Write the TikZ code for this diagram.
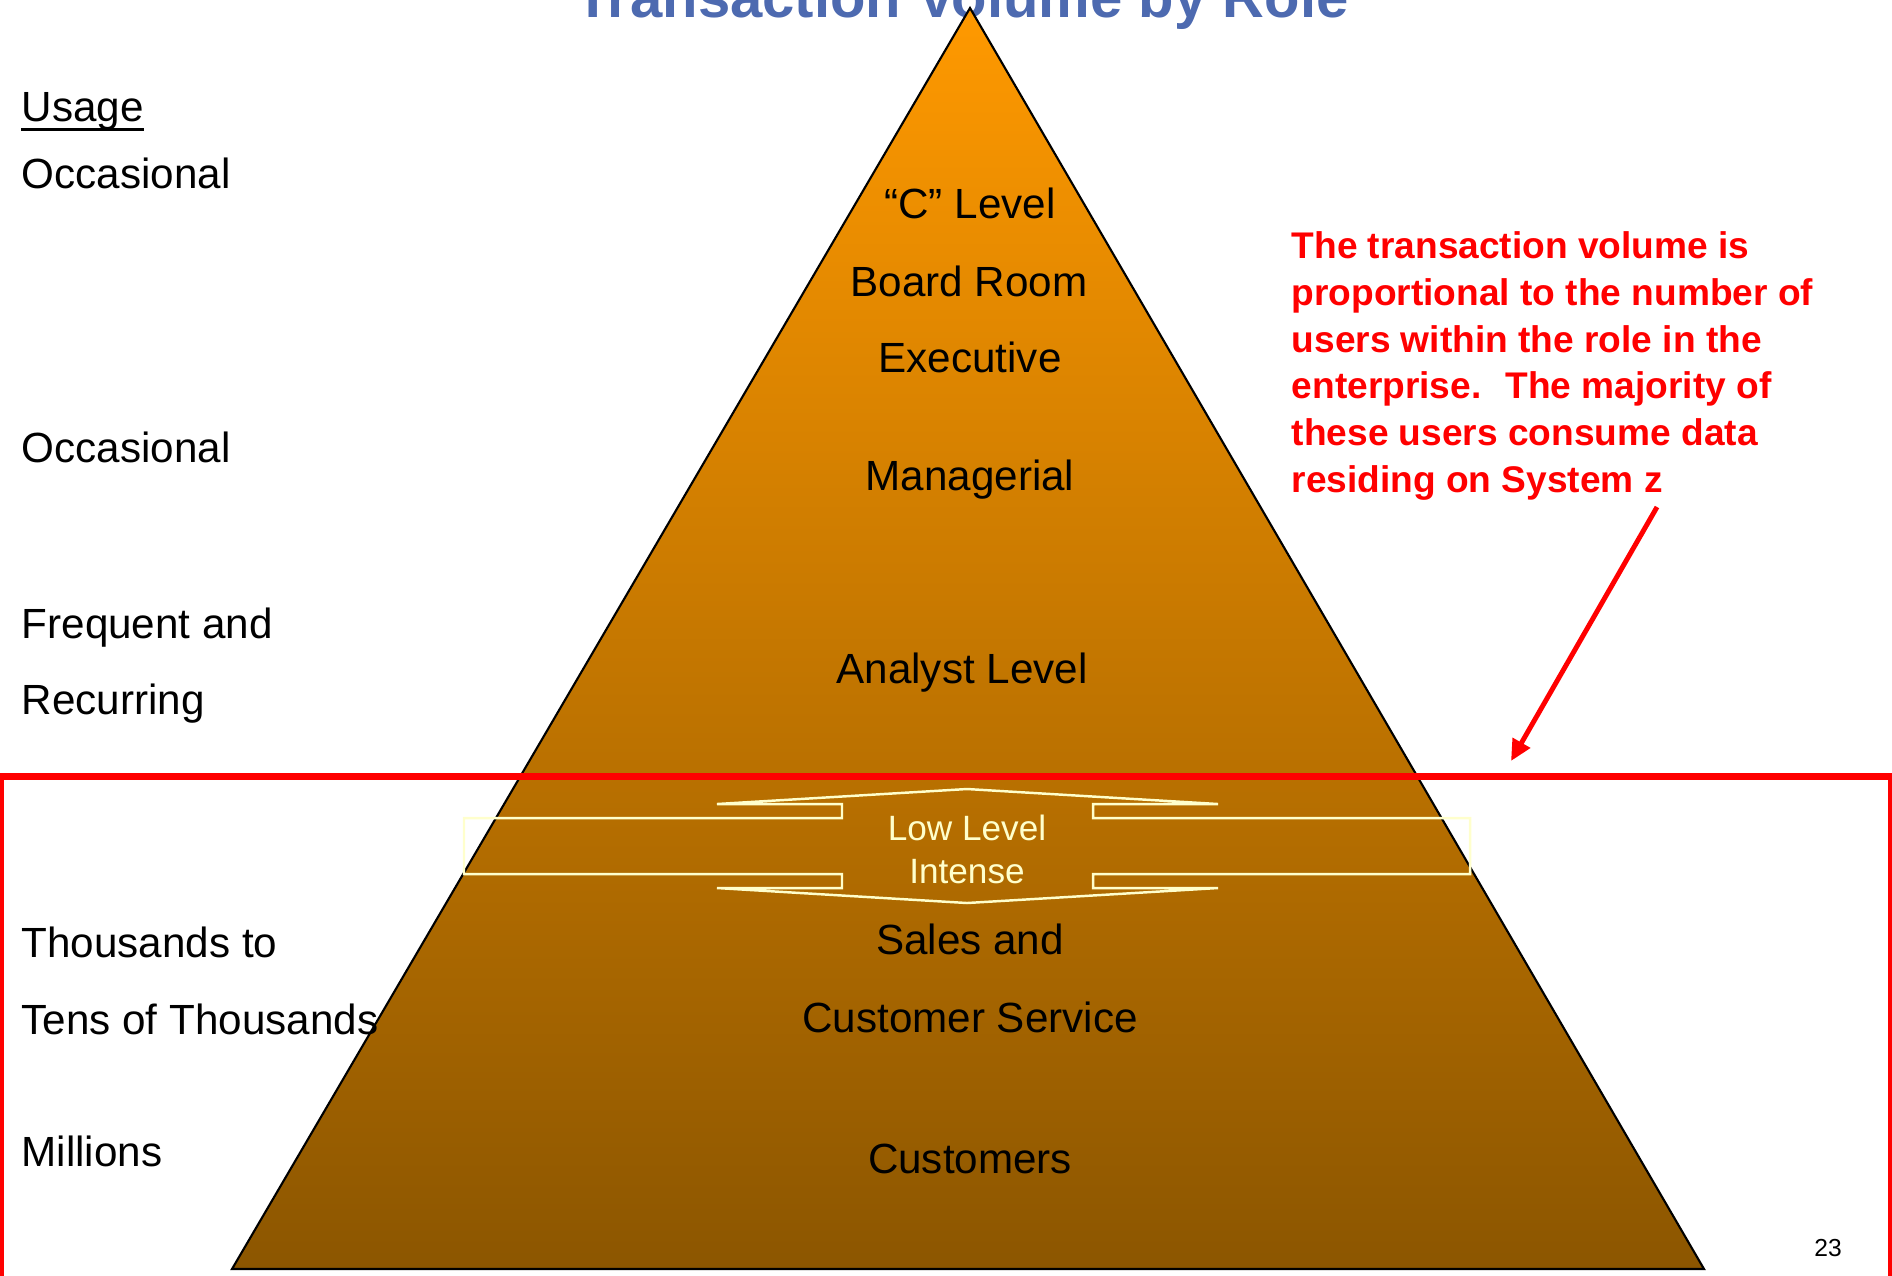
\documentclass[tikz,border=0pt]{standalone}
\usepackage{fontspec}
\setmainfont{Liberation Sans}
\usetikzlibrary{arrows.meta}
\definecolor{pyrtop}{RGB}{255,153,0}
\definecolor{pyrbot}{RGB}{140,86,0}
\definecolor{titleblue}{RGB}{77,106,176}
\definecolor{paleyellow}{RGB}{255,255,204}

\begin{document}
\begin{tikzpicture}[x=0.01cm,y=-0.01cm,
  side/.style={anchor=base west,inner sep=0,font=\fontsize{12}{14}\selectfont},
  role/.style={anchor=base,inner sep=0,font=\fontsize{12}{14}\selectfont},
  pointer/.style={red,line width=1.4pt,-{Triangle[length=6pt,width=5.5pt]}}]
\useasboundingbox (0,0) rectangle (1892,1275);
\clip (0,0) rectangle (1892,1275);
\node[anchor=base,inner sep=0,text=titleblue,font=\fontsize{16.5}{20}\selectfont\bfseries] (title) at (962,17) {Transaction Volume by Role};
% pyramid
\shadedraw[top color=pyrtop,bottom color=pyrbot,draw=black,line width=0.6pt] (970,8) -- (1704,1269) -- (232,1269) -- cycle;
% low level band with up/down arrow
\draw[paleyellow,line width=0.7pt] (464,818) -- (842,818) -- (842,804) -- (717,804) -- (967,789) -- (1218,804) -- (1093,804) -- (1093,818) -- (1470,818) -- (1470,874) -- (1093,874) -- (1093,888) -- (1218,888) -- (967,903) -- (717,888) -- (842,888) -- (842,874) -- (464,874) -- cycle;
\node[align=center,anchor=north,inner sep=0,text=paleyellow,font=\fontsize{10}{12.2}\selectfont] (band) at (967,814) {Low Level\\Intense};
% red frame
\draw[red,line width=2pt] (0,776) rectangle (1891,1300);
% roles
\foreach \x/\y/\t [count=\i] in {970/218/“C” Level, 969/296/Board Room, 970/372/Executive, 970/490/Managerial, 962/683/Analyst Level, 970/954/Sales and, 970/1032/Customer Service, 970/1173/Customers}
  \node[role] (role\i) at (\x,\y) {\t};
% usage column
\node[side] (usage) at (21,121) {Usage};
\draw[line width=0.85pt] ([yshift=-2.3pt]usage.base west) -- ([yshift=-2.3pt]usage.base east);
\foreach \y/\t [count=\i] in {188/Occasional, 462/Occasional, 638/Frequent and, 714/Recurring, 957/Thousands to, 1034/Tens of Thousands, 1166/Millions}
  \node[side] (usage\i) at (21,\y) {\t};
% remark
\node[anchor=north west,inner sep=0,align=left,text=red,font=\fontsize{10.55}{13.3}\selectfont\bfseries] (note) at (1291,231) {The transaction volume is\\proportional to the number of\\users within the role in the\\enterprise.~ The majority of\\these users consume data\\residing on System z};
\coordinate (tail) at (1657,507);
\coordinate (tip) at (1511,761);
\draw[pointer] (tail) -- (tip);
\node[anchor=base,inner sep=0,font=\fontsize{7}{8}\selectfont] (page) at (1828,1256) {23};
\end{tikzpicture}
\end{document}
